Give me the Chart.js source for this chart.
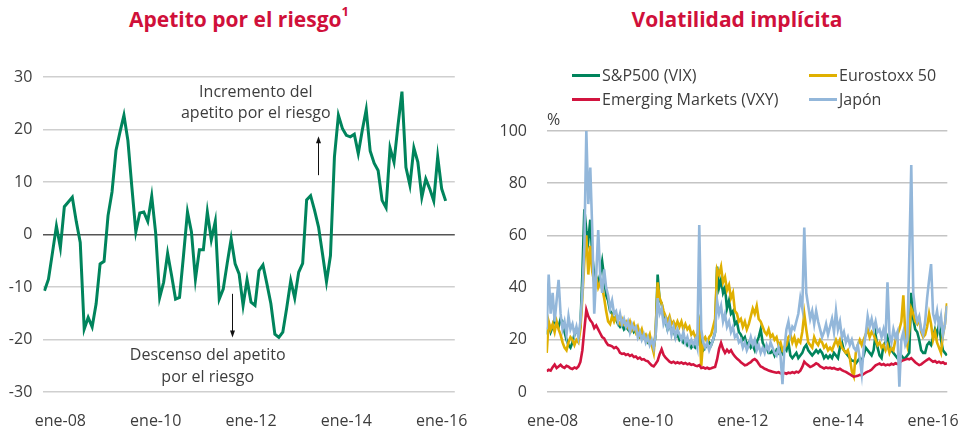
<!DOCTYPE html>
<html>
<head>
<meta charset="utf-8">
<script src="https://cdn.jsdelivr.net/npm/chart.js@4.4.1/dist/chart.umd.min.js"></script>
<style>
  body { margin: 0; background: #fff; font-family: 'Open Sans', sans-serif; }
  #page { position: relative; width: 971px; height: 430px; overflow: hidden; }
  .title { position: absolute; top: 5px; font-size: 21px; font-weight: 700; color: #d0103a; white-space: nowrap; transform: translateX(-50%); }
  .title sup { font-size: 13px; position: relative; top: -3px; }
  #c1 { position: absolute; left: 0; top: 0; }
  #c2 { position: absolute; left: 480px; top: 0; }
  #legend { position: absolute; left: 572px; top: 64px; display: grid; grid-template-columns: 237px auto; row-gap: 2px; font-size: 16px; color: #3d3d3d; }
  #legend div { display: flex; align-items: center; height: 22px; white-space: nowrap; }
  #legend span.sw { display: inline-block; width: 28px; height: 3px; margin-right: 2px; }
  #pct { position: absolute; left: 547px; top: 108px; font-size: 16px; color: #3d3d3d; }
</style>
</head>
<body>
<div id="page">
  <div class="title" style="left:239px">Apetito por el riesgo<sup>1</sup></div>
  <div class="title" style="left:737px">Volatilidad implícita</div>
  <canvas id="c1" width="480" height="430"></canvas>
  <canvas id="c2" width="491" height="430"></canvas>
  <div id="legend"></div>
  <div id="pct">%</div>
</div>
<script>
// Eje X: meses desde ene-08
const tickMonths = [0, 24, 48, 72, 96];
const tickLabels = ['ene-08', 'ene-10', 'ene-12', 'ene-14', 'ene-16'];

// Apetito por el riesgo, mensual desde sep-07
const apetitoStart = -4;
const apetito = [
  -10.7, -8.5, -3.5, 1.6, -2.5, 5.3, 6.2, 7.1, 2.5, -1.5,
  -18, -15.8, -17.6, -13.2, -5.6, -5.1, 3.6, 8.1, 16, 19.5,
  22.7, 17.9, 9, 0.5, 4.1, 4.3, 2.5, 7.3, 0.2, -12,
  -9.1, -3.6, -7.8, -12.3, -12, -4, 4.3, 0.5, -8.5, -2.9,
  -2.9, 4.3, -1, 2.5, -12.3, -10.4, -5.5, -0.8, -5.6, -7.5,
  -13.5, -8.6, -12.9, -13.5, -6.9, -5.8, -9.4, -13.2, -19, -19.6,
  -18.6, -13.9, -8.8, -12.1, -7.2, -5.5, 6.6, 7.4, 4.6, 1.4,
  -3.7, -9, -4, 14.8, 22.7, 20.2, 18.9, 18.6, 19.1, 15.4,
  19.8, 23.8, 15.9, 13.6, 12.2, 6.5, 5.1, 16.5, 13.8, 20.8,
  27.2, 12.8, 9.4, 16.5, 13.8, 7.1, 10.6, 8.7, 6.4, 14.8,
  8.7, 6.4
];

// Volatilidad implícita, quincenal desde nov-07
const volStart = -1.5;
const volNames = ['S&P500 (VIX)', 'Eurostoxx 50', 'Emerging Markets (VXY)', 'Japón'];
const sp500 = [
  22, 26, 23,
  25, 28, 26, 25, 28, 27, 23, 20, 18, 17, 19, 22, 24, 22, 25, 45, 70, 62, 58, 66, 52, 45, 44, 42,
  45, 50, 44, 37, 35, 31, 30, 28, 28, 26, 25, 26, 24, 25, 24, 23, 25, 23, 24, 22, 21, 22, 21, 20,
  19, 21, 19, 17, 22, 45, 35, 34, 29, 27, 24, 26, 23, 24, 21, 22, 20, 21, 19, 20, 18, 19, 17, 18,
  17, 18, 25, 17, 16, 17, 18, 19, 18, 20, 23, 48, 40, 43, 38, 40, 32, 35, 30, 31, 26, 27, 23, 22,
  20, 21, 18, 19, 17, 18, 16, 19, 21, 24, 19, 17, 17, 15, 15, 16, 14, 16, 15, 17, 15, 17, 16, 19,
  14, 13, 14, 15, 13, 14, 15, 17, 18, 16, 15, 14, 15, 16, 15, 16, 15, 13, 14, 13, 14, 13, 15, 14,
  13, 17, 19, 16, 15, 14, 13, 12, 12, 11, 12, 13, 12, 14, 17, 16, 15, 14, 16, 22, 17, 14, 13, 18,
  19, 21, 17, 16, 15, 14, 13, 14, 14, 13, 13, 14, 15, 38, 28, 24, 23, 20, 16, 15, 15, 18, 19, 18,
  21, 24, 22, 26, 20, 16, 15, 14
];
const eurostoxx = [
  15, 27, 24,
  26, 23, 27, 24, 22, 19, 17, 16, 19, 21, 20, 18, 20, 19, 24, 36, 50, 60, 45, 56, 46, 42, 44, 40,
  42, 40, 36, 31, 27, 26, 29, 27, 29, 27, 26, 28, 26, 27, 25, 27, 24, 26, 23, 25, 22, 24, 21, 22,
  20, 22, 18, 15, 24, 42, 36, 34, 31, 29, 27, 29, 26, 27, 25, 27, 25, 27, 24, 26, 24, 25, 22, 23,
  21, 22, 26, 10, 20, 21, 19, 21, 22, 25, 28, 47, 45, 48, 42, 44, 39, 41, 36, 38, 31, 30, 27, 28,
  25, 27, 24, 26, 29, 32, 30, 33, 28, 27, 25, 23, 22, 24, 21, 22, 20, 21, 18, 19, 16, 17, 18, 21,
  22, 19, 21, 18, 20, 19, 23, 30, 24, 19, 18, 17, 21, 19, 18, 20, 19, 17, 18, 16, 17, 16, 18, 20,
  18, 20, 17, 16, 15, 16, 13, 8, 6, 15, 18, 20, 18, 20, 22, 24, 21, 23, 22, 20, 18, 19, 17, 18,
  16, 18, 15, 17, 16, 20, 22, 24, 27, 37, 22, 18, 24, 32, 30, 27, 26, 28, 23, 21, 22, 25, 30, 26,
  20, 23, 19, 17, 15, 22, 26, 34
];
const emergentes = [
  8, 8.5, 8.2,
  9.5, 10.5, 9.2, 9.8, 10.4, 9.6, 9.2, 10, 9.7, 9.1, 8.8, 9.4, 9, 9.8, 11.5, 16, 24, 31.5, 29, 27.5, 26.5, 24.5, 25.5, 24,
  22.5, 21, 20.5, 19, 18, 17.8, 17.5, 16.8, 17.2, 16.5, 15, 14.6, 14.8, 14.2, 14.5, 13.8, 14.2, 13.4, 13.6, 12.8, 13.2, 12.4, 12.6, 12,
  11.8, 11, 10.2, 9.8, 10.8, 12, 14.5, 16.4, 14.2, 13.2, 12.4, 11.6, 11.2, 11.6, 11, 11.4, 11, 11.3, 10.8, 11.1, 10.6, 10.9, 10.4, 10.6,
  10.1, 9.9, 10.3, 9.2, 9.4, 9, 9.3, 8.9, 9.1, 9.4, 9.6, 12.5, 16.5, 18.8, 16.5, 15, 16.2, 15.2, 16, 14.6, 13.6, 12.8, 12.2, 11.4,
  10.8, 10.2, 10.4, 11, 11.4, 12.2, 12.6, 12, 10.8, 9.8, 9.4, 8.9, 8.6, 8.2, 8, 7.8, 7.6, 7.4, 7.6, 7.2, 7, 7.3, 7, 7.4,
  7.2, 7.6, 7.3, 7.8, 7.5, 8.2, 9.6, 11.6, 10.8, 10.2, 9.6, 9.9, 10.4, 11, 10.6, 9.8, 9.4, 9, 9.4, 9.1, 9.3, 9, 9.2, 8.8,
  8.6, 8.9, 8.4, 8, 7.7, 7.2, 6.8, 6.3, 5.9, 6, 6.2, 6.6, 6.4, 6.9, 7.4, 7.8, 8.1, 8.6, 9.4, 10.2, 10.6, 10.9, 10.4, 10.7,
  10.2, 10.5, 10.3, 10.8, 10.5, 11, 10.7, 11.2, 11.8, 12.2, 12.4, 12.7, 12.5, 13, 12.2, 11.4, 10.8, 10.3, 10.6, 11.2, 11.8, 12.3, 12.8, 12.2,
  11.6, 11.9, 11.2, 11.6, 11.1, 11.4, 10.8, 11
];
const japon = [
  24, 45, 30,
  38, 27, 35, 43, 30, 24, 27, 22, 29, 24, 26, 22, 25, 21, 27, 38, 56, 100, 72, 86, 62, 30, 45, 62,
  45, 38, 47, 40, 37, 32, 35, 30, 31, 27, 30, 26, 28, 25, 27, 23, 26, 24, 25, 21, 23, 20, 22, 19,
  21, 18, 20, 17, 22, 36, 30, 32, 26, 28, 24, 27, 22, 25, 21, 24, 22, 20, 23, 19, 21, 18, 20, 18,
  20, 17, 64, 24, 19, 17, 19, 16, 18, 20, 23, 35, 30, 33, 27, 30, 25, 27, 23, 25, 21, 22, 19, 20,
  17, 19, 16, 18, 21, 18, 20, 16, 18, 15, 17, 15, 18, 16, 19, 17, 15, 14, 17, 14, 3, 17, 24, 27,
  22, 25, 24, 27, 30, 36, 32, 63, 38, 33, 28, 31, 26, 31, 27, 24, 21, 23, 26, 22, 25, 28, 23, 31,
  24, 27, 21, 23, 19, 21, 18, 20, 17, 16, 18, 13, 7, 17, 22, 29, 25, 28, 24, 27, 23, 24, 21, 24,
  20, 42, 22, 19, 24, 21, 23, 2, 20, 23, 18, 20, 52, 87, 38, 31, 27, 29, 24, 22, 27, 36, 43, 49,
  30, 27, 31, 25, 29, 22, 26, 33
];

const GREEN = '#00845c', YELLOW = '#e0b000', RED = '#d2143f', BLUE = '#93b7da';
const TXT = '#3d3d3d';

Chart.defaults.font.family = "'Open Sans', sans-serif";
Chart.defaults.font.size = 16;
Chart.defaults.color = TXT;

function monthTicks(scale) {
  scale.ticks = tickMonths.map(v => ({ value: v }));
}
function monthLabel(v) {
  const i = tickMonths.indexOf(v);
  return i >= 0 ? tickLabels[i] : '';
}

// Textos y flechas del primer gráfico
const notes = [
  { lines: ['Incremento del', 'apetito por el riesgo'], x: 49.2, y: [27.1, 23.1], arrow: [64.9, 11.3, 18.7] },
  { lines: ['Descenso del apetito', 'por el riesgo'], x: 37.1, y: [-23.1, -27.2], arrow: [43.2, -11.3, -19.6] }
];
const notesPlugin = {
  id: 'notes',
  afterDatasetsDraw(chart) {
    const { ctx, scales: { x, y } } = chart;
    ctx.save();
    ctx.font = "16px 'Open Sans', sans-serif";
    ctx.fillStyle = TXT;
    ctx.textAlign = 'center';
    ctx.textBaseline = 'middle';
    notes.forEach(n => {
      n.lines.forEach((t, i) => ctx.fillText(t, x.getPixelForValue(n.x), y.getPixelForValue(n.y[i])));
      const ax = Math.round(x.getPixelForValue(n.arrow[0])) + 0.5;
      const y0 = y.getPixelForValue(n.arrow[1]);
      const y1 = y.getPixelForValue(n.arrow[2]);
      const dir = y1 < y0 ? -1 : 1;
      ctx.strokeStyle = '#111';
      ctx.fillStyle = '#111';
      ctx.lineWidth = 1;
      ctx.beginPath();
      ctx.moveTo(ax, y0);
      ctx.lineTo(ax, y1 - dir * 5);
      ctx.stroke();
      ctx.beginPath();
      ctx.moveTo(ax, y1);
      ctx.lineTo(ax - 2.5, y1 - dir * 7);
      ctx.lineTo(ax + 2.5, y1 - dir * 7);
      ctx.closePath();
      ctx.fill();
      ctx.fillStyle = TXT;
    });
    ctx.restore();
  }
};

new Chart(document.getElementById('c1'), {
  type: 'line',
  data: {
    datasets: [{
      data: apetito.map((v, i) => ({ x: apetitoStart + i, y: v })),
      borderColor: GREEN,
      borderWidth: 3,
      pointRadius: 0,
      tension: 0
    }]
  },
  options: {
    responsive: false,
    animation: false,
    layout: { padding: { top: 77, right: 22.3, left: 0, bottom: 0 } },
    plugins: { legend: { display: false }, tooltip: { enabled: false } },
    scales: {
      x: {
        type: 'linear',
        min: -4.3,
        max: 99.3,
        grid: { display: false },
        border: { display: false },
        afterBuildTicks: monthTicks,
        afterFit: s => { s.height = 38; },
        ticks: { callback: monthLabel, autoSkip: false, maxRotation: 0, padding: 12 }
      },
      y: {
        min: -30,
        max: 30,
        border: { display: false },
        grid: {
          drawTicks: false,
          color: c => c.tick.value === 0 ? '#555555' : '#cfcfcf',
          lineWidth: 1.5
        },
        afterFit: s => { s.width = 43.3; },
        ticks: { stepSize: 10, padding: 11 }
      }
    }
  },
  plugins: [notesPlugin]
});

const volSeries = [sp500, eurostoxx, emergentes, japon];
const volColors = [GREEN, YELLOW, RED, BLUE];
const volOrder = [3, 2, 1, 0];

new Chart(document.getElementById('c2'), {
  type: 'line',
  data: {
    datasets: volSeries.map((s, k) => ({
      label: volNames[k],
      data: s.map((v, i) => ({ x: volStart + i * 0.5, y: v })),
      borderColor: volColors[k],
      borderWidth: 2.6,
      pointRadius: 0,
      tension: 0,
      order: volOrder[k]
    }))
  },
  options: {
    responsive: false,
    animation: false,
    layout: { padding: { top: 131, right: 9.3, left: 0, bottom: 0 } },
    plugins: { legend: { display: false }, tooltip: { enabled: false } },
    scales: {
      x: {
        type: 'linear',
        min: -1.5,
        max: 99.6,
        grid: { display: false },
        border: { display: false },
        afterBuildTicks: monthTicks,
        afterFit: s => { s.height = 38; },
        ticks: { callback: monthLabel, autoSkip: false, maxRotation: 0, padding: 12 }
      },
      y: {
        min: 0,
        max: 100,
        border: { display: false },
        grid: { drawTicks: false, color: '#c4c4c4', lineWidth: 1.5 },
        afterFit: s => { s.width = 66.7; },
        ticks: { stepSize: 20, padding: 19.7 }
      }
    }
  }
});

// Leyenda en dos columnas
const legend = document.getElementById('legend');
volNames.forEach((name, k) => {
  const item = document.createElement('div');
  item.innerHTML = '<span class="sw" style="background:' + volColors[k] + '"></span>' + name;
  legend.appendChild(item);
});
</script>
</body>
</html>
